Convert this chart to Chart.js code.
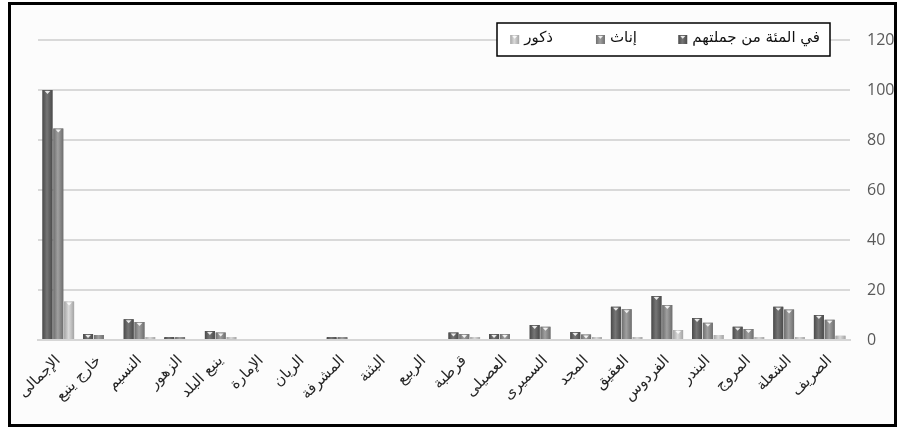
<!DOCTYPE html>
<html>
<head>
<meta charset="utf-8">
<script src="https://cdn.jsdelivr.net/npm/chart.js@4/dist/chart.umd.min.js"></script>
<style>
  html, body { margin: 0; padding: 0; background: #fff; }
  #wrap { width: 901px; height: 436px; position: relative; }
</style>
</head>
<body>
<div id="wrap"><canvas id="chart"></canvas></div>
<script>
// الأحياء
const categories = ['الإجمالى', 'خارج ينبع', 'النسيم', 'الزهور', 'ينبع البلد', 'الإمارة', 'الريان', 'المشرفة', 'البثنة', 'الربيع',
  'قرطبة', 'العصيلى', 'السميرى', 'المجد', 'العقيق', 'الفردوس', 'البندر', 'المروج', 'الشعلة', 'الصريف'];

const seriesNames = ['في المئة من جملتهم', 'إناث', 'ذكور'];

const totalPct = [100, 2.4, 8.3, 0.9, 3.6, 0, 0, 0.6, 0, 0, 3.0, 2.4, 6.0, 3.2, 13.3, 17.6, 8.8, 5.3, 13.3, 10.0];
const females  = [84.6, 2.0, 7.2, 0.7, 3.0, 0, 0, 0.6, 0, 0, 2.4, 2.4, 5.3, 2.2, 12.3, 14.0, 6.9, 4.4, 12.2, 8.1];
const males    = [15.4, 0, 0.3, 0, 0.2, 0, 0, 0, 0, 0, 0.4, 0, 0, 0.6, 0.4, 4.0, 2.0, 0.4, 0.4, 1.7];

const yTicks = [0, 20, 40, 60, 80, 100, 120];

// ألوان الأعمدة: [حافة، وسط]
const barShades = [
  ['#4a4a4a', '#767676'],
  ['#6e6e6e', '#a0a0a0'],
  ['#a4a4a4', '#dadada']
];

function barGradient(ctx, x0, x1, shade) {
  const g = ctx.createLinearGradient(x0, 0, x1, 0);
  g.addColorStop(0, shade[0]);
  g.addColorStop(0.45, shade[1]);
  g.addColorStop(1, shade[0]);
  return g;
}

function drawBarFace(ctx, left, top, w, h, shade) {
  ctx.fillStyle = barGradient(ctx, left, left + w, shade);
  ctx.fillRect(left, top, w, h);
  if (h > 4) {
    ctx.fillStyle = 'rgba(255,255,255,0.85)';
    ctx.beginPath();
    ctx.moveTo(left + w * 0.22, top + 1);
    ctx.lineTo(left + w * 0.78, top + 1);
    ctx.lineTo(left + w * 0.5, top + 1 + w * 0.3);
    ctx.closePath();
    ctx.fill();
  }
}

const decorPlugin = {
  id: 'decor',
  beforeDraw(chart) {
    const ctx = chart.ctx;
    ctx.save();
    ctx.fillStyle = '#fcfcfc';
    ctx.fillRect(9, 3, 887, 423);
    ctx.restore();
  },
  afterDatasetsDraw(chart) {
    const ctx = chart.ctx;
    ctx.save();
    chart.data.datasets.forEach((ds, i) => {
      const meta = chart.getDatasetMeta(i);
      meta.data.forEach((el, j) => {
        if (!ds.data[j]) return;
        const { x, y, base, width } = el.getProps(['x', 'y', 'base', 'width'], true);
        const h = Math.max(base - y, 2);
        drawBarFace(ctx, x - width / 2, base - h, width, h, barShades[i]);
      });
    });
    ctx.restore();
  },
  afterDraw(chart) {
    const ctx = chart.ctx;
    ctx.save();
    // صندوق المفتاح
    ctx.fillStyle = '#ffffff';
    ctx.fillRect(497, 23, 333, 33);
    ctx.strokeStyle = '#000';
    ctx.lineWidth = 1.5;
    ctx.strokeRect(497, 23, 333, 33);

    const textRight = [820, 637, 553];
    ctx.font = '15px "DejaVu Sans"';
    ctx.textBaseline = 'middle';
    ctx.direction = 'rtl';
    ctx.textAlign = 'right';
    seriesNames.forEach((name, i) => {
      ctx.fillStyle = '#111';
      ctx.fillText(name, textRight[i], 38);
      const tw = ctx.measureText(name).width;
      drawBarFace(ctx, textRight[i] - tw - 14, 35, 9, 9, barShades[i]);
    });

    // الإطار الخارجي
    ctx.strokeStyle = '#000';
    ctx.lineWidth = 3;
    ctx.strokeRect(9.5, 3.5, 886, 422);
    ctx.restore();
  }
};

new Chart(document.getElementById('chart'), {
  type: 'bar',
  data: {
    labels: categories,
    datasets: [
      { label: seriesNames[0], data: totalPct, backgroundColor: '#5e5e5e' },
      { label: seriesNames[1], data: females, backgroundColor: '#888888' },
      { label: seriesNames[2], data: males, backgroundColor: '#c0c0c0' }
    ]
  },
  options: {
    responsive: true,
    maintainAspectRatio: false,
    animation: false,
    datasets: {
      bar: { categoryPercentage: 0.8, barPercentage: 0.92, minBarLength: 0 }
    },
    layout: { padding: { left: 38, top: 40, right: 0, bottom: 0 } },
    scales: {
      x: {
        grid: { display: false },
        border: { color: '#d6d6d6', width: 2 },
        ticks: {
          autoSkip: false,
          maxRotation: 45,
          minRotation: 45,
          padding: 4,
          color: '#262626',
          font: { family: '"DejaVu Sans"', size: 15 }
        },
        afterFit(scale) { scale.height = 96; }
      },
      y: {
        position: 'right',
        min: 0,
        max: 120,
        afterBuildTicks(scale) { scale.ticks = yTicks.map(v => ({ value: v })); },
        grid: { color: '#d9d9d9', lineWidth: 2, drawTicks: false },
        border: { display: false },
        ticks: {
          padding: 17,
          color: '#595959',
          font: { family: '"Open Sans"', size: 16 }
        },
        afterFit(scale) { scale.width = 51; }
      }
    },
    plugins: {
      legend: { display: false },
      tooltip: { enabled: false }
    }
  },
  plugins: [decorPlugin]
});
</script>
</body>
</html>
